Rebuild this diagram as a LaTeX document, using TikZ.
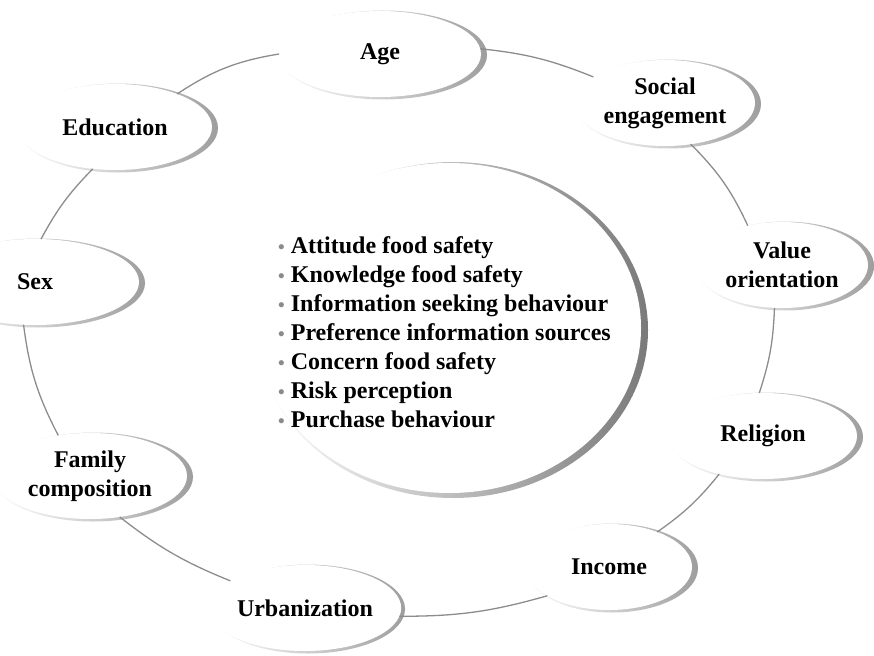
\documentclass[tikz,border=0pt]{standalone}
\usepackage{fontspec}
\setmainfont{Liberation Serif}
\usetikzlibrary{shapes.geometric}
\definecolor{rimgray}{HTML}{9E9E9E}
\definecolor{rimdark}{HTML}{7A7A7A}
\definecolor{linkgray}{HTML}{8C8C8C}
\definecolor{bulgray}{HTML}{8A8A8A}
\newcommand{\bul}{{\fontsize{19}{19}\selectfont\textcolor{bulgray}{\textbullet}}\hspace{6pt}}
\newcommand{\satnode}[6]{%
  \shade[left color=white, right color=rimgray] (#2+3,#3+1) ellipse [x radius=#4+3, y radius=#5+1.5];
  \node[sat, minimum width=#4*2pt, minimum height=#5*2pt] (#1) at (#2,#3) {#6};
}
\begin{document}
\begin{tikzpicture}[x=1pt,y=-1pt]
\tikzset{
  sat/.style={ellipse, fill=white, inner sep=0pt, outer sep=0pt, align=center,
              font=\fontsize{24}{29}\selectfont\bfseries},
  link/.style={draw=linkgray, line width=1.3pt},
  listtext/.style={align=left, anchor=west, inner sep=0pt,
              font=\fontsize{24}{29}\selectfont\bfseries},
}
\useasboundingbox (0,0) rectangle (874,655);
\clip (0,0) rectangle (874,655);
% central ellipse
\shade[left color=white, right color=rimdark] (453,330) ellipse [x radius=195, y radius=168];
\node[ellipse, fill=white, inner sep=0pt, outer sep=0pt,
      minimum width=384pt, minimum height=330pt] (core) at (449,328) {};
\node[listtext] (list) at (278,332) {\bul Attitude food safety\\
\bul Knowledge food safety\\
\bul Information seeking behaviour\\
\bul Preference information sources\\
\bul Concern food safety\\
\bul Risk perception\\
\bul Purchase behaviour};
% satellites
\satnode{age}{380}{54}{101}{43}{Age}
\satnode{soc}{665}{103}{90}{43}{Social\\engagement}
\satnode{val}{782}{265}{86}{43}{Value\\orientation}
\satnode{rel}{763}{436}{94}{43}{Religion}
\satnode{inc}{609}{567}{83}{43}{Income}
\satnode{urb}{305}{608}{94}{43}{Urbanization}
\satnode{fam}{90}{476}{97}{43}{Family\\composition}
\satnode{sex}{35}{282}{104}{43}{Sex}
\satnode{edu}{115}{127}{97}{43}{Education}
% connectors
\draw[link] (edu.28) to[bend left=12] (age.180);
\draw[link] (age.3) to[bend left=8] (soc.160);
\draw[link] (soc.-58) to[bend left=10] (val.131);
\draw[link] (val.-100) to[bend left=8] (rel.95);
\draw[link] (rel.-139) to[bend left=8] (inc.36);
\draw[link] (inc.-155) to[bend left=8] (urb.-5);
\draw[link] (urb.160) to[bend left=8] (fam.-54);
\draw[link] (fam.128) to[bend left=10] (sex.-105);
\draw[link] (sex.82) to[bend left=8] (edu.-118);
\end{tikzpicture}
\end{document}
